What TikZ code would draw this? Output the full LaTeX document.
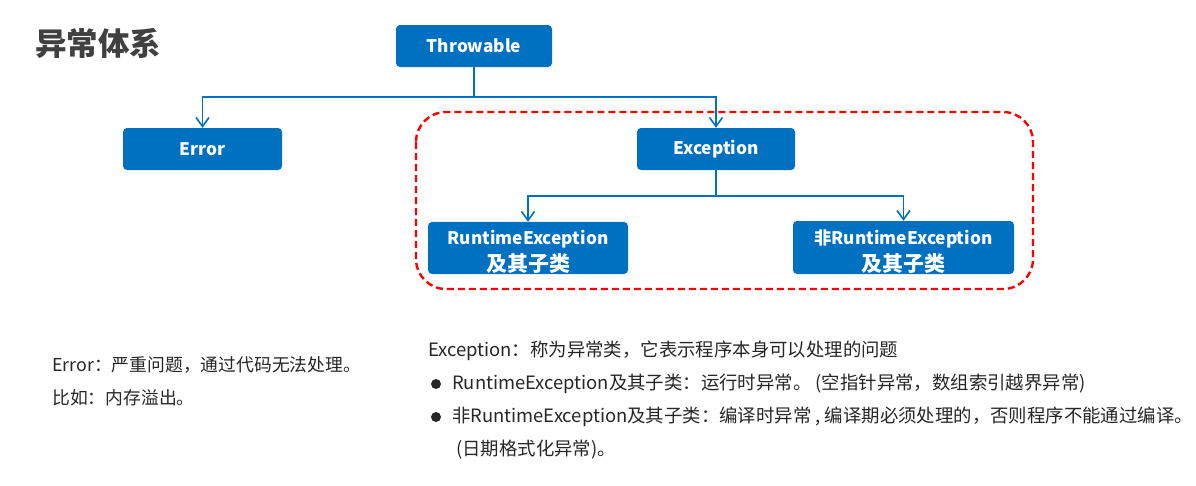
\documentclass[tikz,border=0pt]{standalone}
\usepackage{fontspec}
\setmainfont{Noto Sans CJK SC}
\usetikzlibrary{arrows.meta}

\definecolor{boxblue}{HTML}{0070C0}
\definecolor{titlegray}{HTML}{404040}
\definecolor{textgray}{HTML}{262626}

\newcommand{\subline}[1]{{\fontsize{21}{24}\selectfont #1}}

\tikzset{
	classbox/.style = {draw = none, fill = boxblue, rounded corners = 4pt, text = white,
		font = \fontsize{17.3}{24}\selectfont\bfseries, align = center, inner sep = 0pt},
	link/.style = {draw = boxblue, line width = 1.8pt},
	tolink/.style = {link, -{Straight Barb[length = 9pt, width = 13pt, line width = 1.6pt]}},
	note/.style = {anchor = base west, inner sep = 0pt, text = textgray,
		font = \fontsize{17.8}{20}\selectfont},
	bignote/.style = {note, font = \fontsize{18.4}{20}\selectfont}
}

\begin{document}
\begin{tikzpicture}[x = 1pt, y = -1pt]
		%frame of the slide
		\useasboundingbox (0,0) rectangle (1196,485);
		
		%title
		\node (title) [anchor = west, inner sep = 0pt, text = titlegray, font = \fontsize{31.5}{33}\selectfont\bfseries] at (35,43) {异常体系};
		
		%group of exceptions
		\draw [red, line width = 2.4pt, dash pattern = on 7pt off 4pt, rounded corners = 30pt] (416,112) rectangle (1033,289);
		
		%classes
		\node (thr) [classbox, minimum width = 156pt, minimum height = 42pt] at (474,46) {Throwable};
		\node (err) [classbox, minimum width = 159pt, minimum height = 42pt] at (202.5,149) {Error};
		\node (exc) [classbox, minimum width = 158pt, minimum height = 42pt] at (716,149) {Exception};
		\node (rte) [classbox, minimum width = 200pt, minimum height = 52pt] at (528,248) {\rule{0pt}{23pt}RuntimeException\\[3pt]\subline{及其子类}};
		\node (nrte) [classbox, minimum width = 221pt, minimum height = 53pt] at (903.5,247.5) {\rule{0pt}{23pt}非RuntimeException\\[3pt]\subline{及其子类}};
		
		%branch points
		\coordinate (split1) at (474,97);
		\coordinate (split2) at (716,196);
		
		%inheritance
		\draw [link] (thr.south) -- (split1);
		\draw [tolink] (split1) -| (err.north);
		\draw [tolink] (split1) -| (exc.north);
		\draw [link] (exc.south) -- (split2);
		\draw [tolink] (split2) -| (rte.north);
		\draw [tolink] (split2) -| (nrte.north);
		
		%notes on Error
		\node (errnote) [note] at (52,371) {Error：严重问题，通过代码无法处理。};
		\node (errexample) [note] at (52,404) {比如：内存溢出。};
		
		%notes on Exception
		\node (excnote) [bignote] at (428,356) {Exception：称为异常类，它表示程序本身可以处理的问题};
		\fill [textgray] (436,384) circle [radius = 5pt];
		\node (rtenote) [bignote] at (452,389) {RuntimeException及其子类：运行时异常。 (空指针异常，数组索引越界异常)};
		\fill [textgray] (436,417) circle [radius = 5pt];
		\node (nrtenote) [bignote] at (452,422) {非RuntimeException及其子类：编译时异常 , 编译期必须处理的，否则程序不能通过编译。};
		\node (nrteexample) [bignote] at (456,455) {(日期格式化异常)。};
	\end{tikzpicture}
\end{document}
